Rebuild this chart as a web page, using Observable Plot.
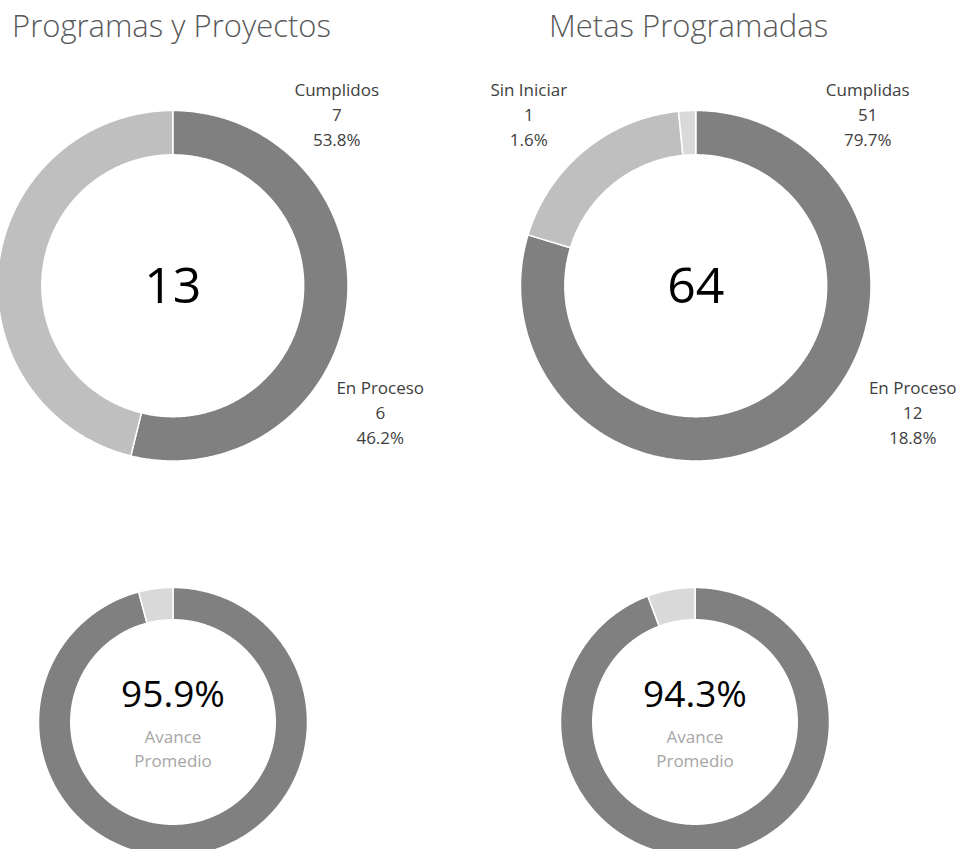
<!DOCTYPE html>
<html>
<head>
<meta charset="utf-8">
<script src="https://cdn.jsdelivr.net/npm/d3@7"></script>
<script src="https://cdn.jsdelivr.net/npm/@observablehq/plot@0.6"></script>
<style>
  html, body { margin: 0; padding: 0; background: #fff; }
  #root { position: relative; width: 960px; height: 849px; overflow: hidden; font-family: "Open Sans", sans-serif; }
  .title { position: absolute; margin: 0; font-weight: 300; font-size: 31px; line-height: 31px; color: #595959; white-space: nowrap; }
  .chart { position: absolute; }
  .chart svg { overflow: visible; }
</style>
</head>
<body>
<div id="root"></div>
<script>
// ---------- DATA ----------
const titles = ["Programas y Proyectos", "Metas Programadas"];

const proyCategories = ["Cumplidos", "En Proceso"];
const proyValues = [7, 6];

const metasCategories = ["Cumplidas", "En Proceso", "Sin Iniciar"];
const metasValues = [51, 12, 1];

const avanceCategories = ["Avance", "Pendiente"];
const avanceProyectos = [0.959, 0.041];
const avanceMetas = [0.943, 0.057];
const avanceLabel = "Avance\nPromedio";

// ---------- STYLE / LAYOUT ----------
const proyColors = ["#808080", "#bfbfbf"];
const metasColors = ["#808080", "#bfbfbf", "#d9d9d9"];
const avanceColors = ["#808080", "#d9d9d9"];

const layout = {
  tl: {cx: 172.5, cy: 285, R: 175.25, hole: 0.747},
  tr: {cx: 695, cy: 285, R: 175.25, hole: 0.747},
  bl: {cx: 172, cy: 721, R: 134.5, hole: 0.76},
  br: {cx: 694.5, cy: 721, R: 134.5, hole: 0.76}
};
// label offsets (px) from ring centre: [dx, dy of last line baseline]
const proyLabelOffsets = [[164, -139.5], [207.5, 158.5]];
const metasLabelOffsets = [[172, -140], [217, 158], [-167, -140]];

const fmtPct = d3.format(".1%");
const FONT = '"Open Sans", sans-serif';

const root = document.getElementById("root");

function addTitle(text, css) {
  const el = document.createElement("div");
  el.className = "title";
  el.textContent = text;
  Object.assign(el.style, css);
  root.appendChild(el);
}

function ringFeatures(cats, values, colors, hole) {
  const total = d3.sum(values);
  let acc = 0;
  const pt = (a, r) => [Math.sin(a) * r, -Math.cos(a) * r];
  return values.map((v, i) => {
    const a0 = acc / total * 2 * Math.PI;
    acc += v;
    const a1 = acc / total * 2 * Math.PI;
    const n = Math.max(2, Math.ceil((a1 - a0) / (Math.PI / 360)));
    const angles = d3.range(n + 1).map(k => a0 + (a1 - a0) * k / n);
    const ring = [...angles.map(a => pt(a, 1)), ...angles.slice().reverse().map(a => pt(a, hole))];
    ring.push(ring[0]);
    return {
      type: "Feature",
      properties: {name: cats[i], value: v, share: v / total, color: colors[i]},
      geometry: {type: "Polygon", coordinates: [ring]}
    };
  });
}

function donut(pos, features, extraMarks) {
  const size = pos.R * 2;
  const svg = Plot.plot({
    width: size,
    height: size,
    margin: 0,
    projection: {type: "identity", domain: {type: "MultiPoint", coordinates: [[-1, -1], [1, 1]]}},
    color: {type: "identity"},
    style: {overflow: "visible", fontFamily: FONT, background: "transparent"},
    marks: [
      Plot.geo(features, {fill: d => d.properties.color, stroke: "white", strokeWidth: 1.5}),
      ...extraMarks
    ]
  });
  const wrap = document.createElement("div");
  wrap.className = "chart";
  wrap.style.left = (pos.cx - pos.R) + "px";
  wrap.style.top = (pos.cy - pos.R) + "px";
  wrap.style.width = size + "px";
  wrap.style.height = size + "px";
  wrap.appendChild(svg);
  root.appendChild(wrap);
}

function labelMarks(features, offsets) {
  return features.map((f, i) => Plot.text(
    [`${f.properties.name}\n${f.properties.value}\n${fmtPct(f.properties.share)}`],
    {frameAnchor: "middle", text: d => d, dx: offsets[i][0], dy: offsets[i][1],
     lineAnchor: "bottom", lineHeight: 1.47, fontSize: 17, fill: "#404040", textAnchor: "middle"}
  ));
}

function centerTotal(values, dy) {
  return Plot.text([d3.sum(values)], {frameAnchor: "middle", text: d => String(d), dy, lineAnchor: "bottom",
    fontSize: 50, fill: "#000", textAnchor: "middle"});
}

function avanceMarks(values) {
  return [
    Plot.text([values[0]], {frameAnchor: "middle", text: d => fmtPct(d), dy: -15, lineAnchor: "bottom",
      fontSize: 37, fill: "#000", textAnchor: "middle"}),
    Plot.text([avanceLabel], {frameAnchor: "middle", text: d => d, dy: 45, lineAnchor: "bottom",
      lineHeight: 1.41, fontSize: 17, fill: "#a6a6a6", textAnchor: "middle"})
  ];
}

// ---------- TITLES ----------
addTitle(titles[0], {left: "12px", top: "10px"});
addTitle(titles[1], {left: "549px", top: "10px"});

// ---------- DONUTS ----------
const proyFeat = ringFeatures(proyCategories, proyValues, proyColors, layout.tl.hole);
donut(layout.tl, proyFeat, [centerTotal(proyValues, 17.5), ...labelMarks(proyFeat, proyLabelOffsets)]);

const metasFeat = ringFeatures(metasCategories, metasValues, metasColors, layout.tr.hole);
donut(layout.tr, metasFeat, [centerTotal(metasValues, 17), ...labelMarks(metasFeat, metasLabelOffsets)]);

const avP = ringFeatures(avanceCategories, avanceProyectos, avanceColors, layout.bl.hole);
donut(layout.bl, avP, avanceMarks(avanceProyectos));

const avM = ringFeatures(avanceCategories, avanceMetas, avanceColors, layout.br.hole);
donut(layout.br, avM, avanceMarks(avanceMetas));
</script>
</body>
</html>
